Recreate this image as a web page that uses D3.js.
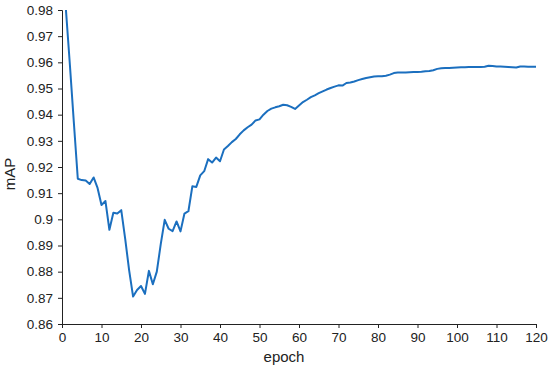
<!DOCTYPE html>
<html>
<head>
<meta charset="utf-8">
<script src="https://cdn.jsdelivr.net/npm/d3@7"></script>
<style>
  body { margin: 0; background: #fff; }
  text { font-family: "Liberation Sans", Arial, sans-serif; }
</style>
</head>
<body>
<div id="chart"></div>
<script>
(function()
{
    var width = 550;
    var height = 369;

    // mAP per epoch (epoch 1..120)
    var mapValues = [
        0.980, 0.959, 0.937, 0.9155, 0.9150, 0.9148, 0.9135, 0.9160, 0.9120, 0.9055,
        0.9070, 0.8960, 0.9025, 0.9022, 0.9035, 0.8925, 0.8805, 0.8705, 0.8730, 0.8745,
        0.8715, 0.8803, 0.8752, 0.8800, 0.8905, 0.8998, 0.8964, 0.8955, 0.8992, 0.8954,
        0.9022, 0.9031, 0.9126, 0.9124, 0.9168, 0.9184, 0.9230, 0.9217, 0.9236, 0.9222,
        0.9267, 0.9280, 0.9295, 0.9307, 0.9325, 0.9340, 0.9352, 0.9362, 0.9378, 0.9382,
        0.9400, 0.9414, 0.9423, 0.9428, 0.9432, 0.9438, 0.9436, 0.9430, 0.9422, 0.9435,
        0.9448, 0.9457, 0.9467, 0.9474, 0.9482, 0.9489, 0.9496, 0.9502, 0.9507, 0.9512,
        0.9511, 0.9521, 0.9523, 0.9527, 0.9532, 0.9536, 0.9540, 0.9543, 0.9546, 0.9547,
        0.9547, 0.9549, 0.9553, 0.9559, 0.9561, 0.9561, 0.9561, 0.9562, 0.9563, 0.9563,
        0.9564, 0.9566, 0.9567, 0.9570, 0.9575, 0.9577, 0.9578, 0.9578, 0.9579, 0.9580,
        0.9581, 0.9581, 0.9582, 0.9582, 0.9582, 0.9582, 0.9583, 0.9587, 0.9586, 0.9584,
        0.9584, 0.9583, 0.9582, 0.9581, 0.9580, 0.9584, 0.9584, 0.9583, 0.9583, 0.9583
    ];
    var epochs = d3.range(1, mapValues.length + 1);

    var xTicks = [0, 10, 20, 30, 40, 50, 60, 70, 80, 90, 100, 110, 120];
    var yTicks = [0.86, 0.87, 0.88, 0.89, 0.9, 0.91, 0.92, 0.93, 0.94, 0.95, 0.96, 0.97, 0.98];

    var margin = {top: 10, right: 14, bottom: 45, left: 62};

    var svg = d3.select("#chart")
        .append("svg")
        .attr("width", width)
        .attr("height", height);

    var x = d3.scaleLinear()
        .domain([0, 120])
        .range([margin.left, width - margin.right]);

    var y = d3.scaleLinear()
        .domain([0.86, 0.98])
        .range([height - margin.bottom, margin.top]);

    // axes
    var xAxis = d3.axisBottom(x).tickValues(xTicks).tickSize(4).tickPadding(4)
        .tickFormat(d3.format("d"));
    var yAxis = d3.axisLeft(y).tickValues(yTicks).tickSize(4).tickPadding(5)
        .tickFormat(function(d){ return d3.format("")(+d.toFixed(2)); });

    var gx = svg.append("g")
        .attr("transform", "translate(0," + (height - margin.bottom) + ")")
        .call(xAxis);
    var gy = svg.append("g")
        .attr("transform", "translate(" + margin.left + ",0)")
        .call(yAxis);

    [gx, gy].forEach(function(g){
        g.selectAll("path, line").attr("stroke", "#222");
        g.selectAll("text").attr("fill", "#222").style("font-size", "13.5px");
    });

    // line
    var line = d3.line()
        .x(function(d, i){ return x(epochs[i]); })
        .y(function(d){ return y(d); });

    svg.append("path")
        .datum(mapValues)
        .attr("fill", "none")
        .attr("stroke", "#1b6fbf")
        .attr("stroke-width", 2)
        .attr("stroke-linejoin", "round")
        .attr("d", line);

    // axis titles
    svg.append("text")
        .attr("x", 284)
        .attr("y", 362)
        .attr("text-anchor", "middle")
        .attr("fill", "#222")
        .style("font-size", "15px")
        .text("epoch");

    svg.append("text")
        .attr("transform", "translate(15,174) rotate(-90)")
        .attr("text-anchor", "middle")
        .attr("fill", "#222")
        .style("font-size", "15px")
        .text("mAP");
})();
</script>
</body>
</html>
